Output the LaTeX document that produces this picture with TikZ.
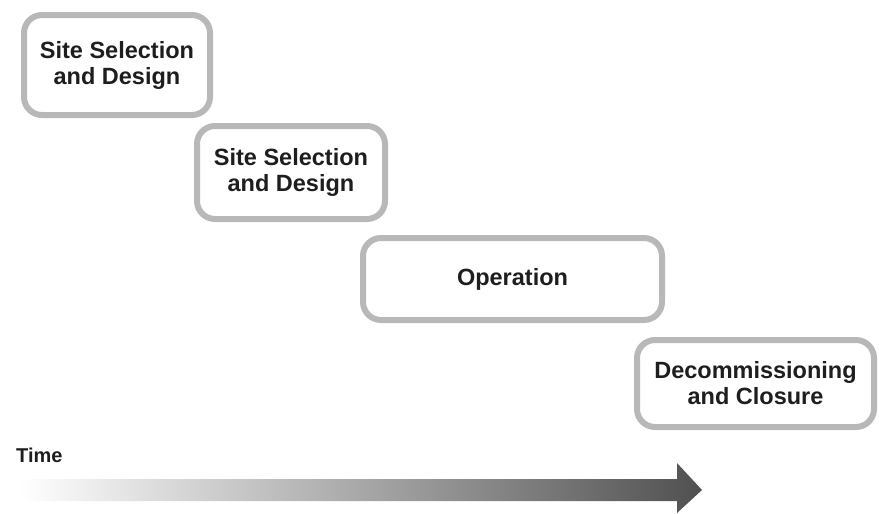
\documentclass[tikz,border=0pt]{standalone}
\usepackage{fontspec}
\setmainfont{Liberation Sans}
\definecolor{framegray}{HTML}{B8B8B8}
\definecolor{txt}{HTML}{1E1E1E}
\definecolor{arrowend}{HTML}{505050}
\definecolor{arrowmid}{HTML}{ABABAB}
\begin{document}
\begin{tikzpicture}[x=1pt,y=-1pt,
  phase/.style={draw=framegray, line width=6pt, rounded corners=18pt, fill=white,
    align=center, text=txt, font=\fontsize{23.5}{26}\selectfont\bfseries, inner sep=0pt},
  lbl/.style={text=txt, font=\fontsize{20}{22}\selectfont\bfseries, inner sep=0pt, anchor=base west}]
\useasboundingbox (0,0) rectangle (879,514);
\node[phase, minimum width=186pt, minimum height=100pt] (p1) at (117,65) {Site Selection\\and Design};
\node[phase, minimum width=188pt, minimum height=93pt] (p2) at (291,172.5) {Site Selection\\and Design};
\node[phase, minimum width=299pt, minimum height=82pt] (p3) at (512.5,279) {Operation};
\node[phase, minimum width=237pt, minimum height=87pt] (p4) at (755.5,383.5) {Decommissioning\\and Closure};
\node[lbl] (time) at (16,462) {Time};
\shade[left color=white, middle color=arrowmid, right color=arrowend]
  (20,479) -- (677,479) -- (677,463) -- (702,490) -- (677,513) -- (677,501) -- (20,501) -- cycle;
\end{tikzpicture}
\end{document}
